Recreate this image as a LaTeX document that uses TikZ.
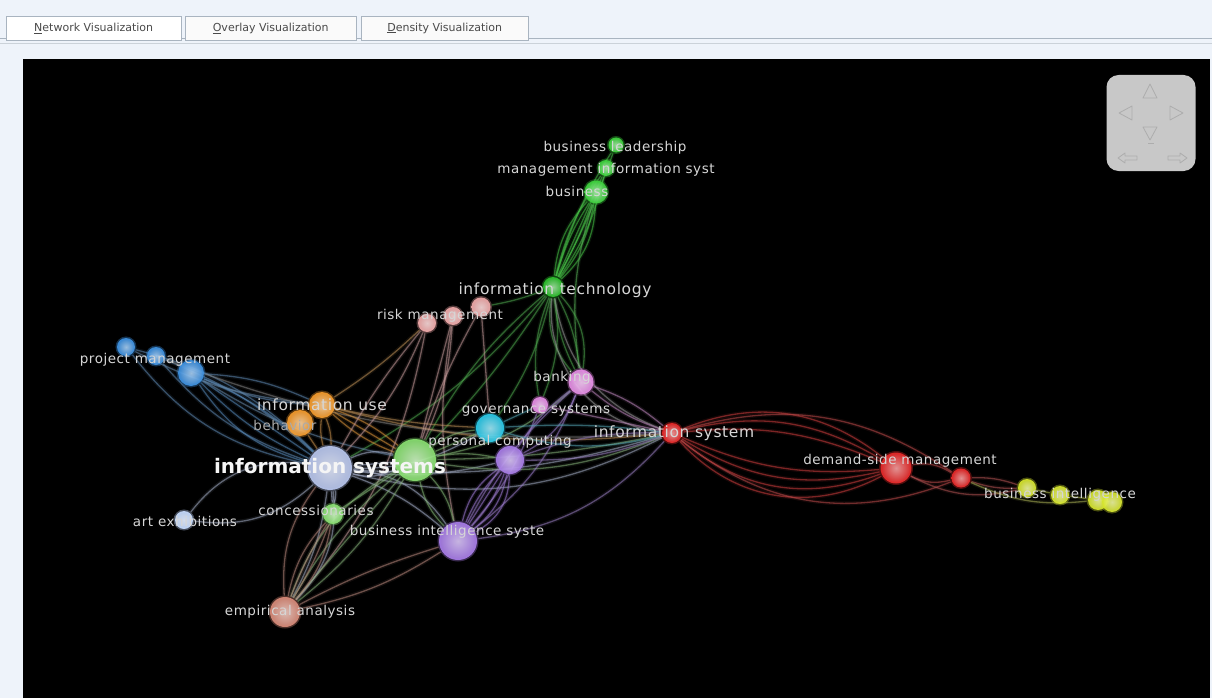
\documentclass[tikz,border=0pt]{standalone}
\usepackage{fontspec}
\setmainfont{DejaVu Sans}
\newfontfamily\lblfont[LetterSpace=4]{DejaVu Sans}
\pgfdeclarelayer{panel}
\pgfdeclarelayer{links}
\pgfsetlayers{panel,links,main}
\definecolor{bgc}{HTML}{EEF3FA}
\definecolor{tabln}{HTML}{A9B4C0}
\definecolor{tabtxt}{HTML}{4A4A4A}
\definecolor{navc}{HTML}{C8C8C8}
\definecolor{navl}{HTML}{ADADAD}
\definecolor{lbl}{HTML}{D6D6D6}
\definecolor{cTop}{HTML}{3CD23C}
\definecolor{cIT}{HTML}{2CC02C}
\definecolor{cBlue}{HTML}{3A8FE0}
\definecolor{cOrange}{HTML}{F59A2A}
\definecolor{cLav}{HTML}{B8C6EE}
\definecolor{cLime}{HTML}{88E070}
\definecolor{cPurp}{HTML}{A77BE8}
\definecolor{cCyan}{HTML}{28C8E8}
\definecolor{cPink}{HTML}{E58AE5}
\definecolor{cRed}{HTML}{E82828}
\definecolor{cYel}{HTML}{D6E52A}
\definecolor{cSal}{HTML}{D98A78}
\definecolor{cRose}{HTML}{F0A8A8}
\definecolor{cArt}{HTML}{C6DCFF}
\newcommand\bund[4]{\foreach \bb in {#4}{\draw[lnk=#3] (#1) to[bend left=\bb] (#2);}}
\begin{document}
\begin{tikzpicture}[x=1pt,y=-1pt,
  vn/.style 2 args={circle,inner sep=0pt,minimum size=#2,shading=radial,inner color=#1!45!white,outer color=#1,fill opacity=0.92,draw=#1,line width=3pt,draw opacity=0.35},
  lnk/.style={draw=#1,line width=1.3pt,draw opacity=0.55,preaction={draw=#1,line width=4pt,draw opacity=0.1}},
  small/.style={text=lbl,inner sep=0pt,font=\lblfont\fontsize{13.5}{14}\selectfont},
  medium/.style={text=lbl,inner sep=0pt,font=\lblfont\fontsize{15.5}{16}\selectfont},
  big/.style={text=white!92!gray,inner sep=0pt,font=\bfseries\fontsize{20}{21}\selectfont},
  tab/.style={draw=tabln,anchor=north west,minimum height=24,inner sep=0pt,text=tabtxt,font=\fontsize{11}{12}\selectfont},
  navtri/.style={draw=navl,line width=0.8pt,line join=round}]
\useasboundingbox (0,0) rectangle (1212,698);
\begin{pgfonlayer}{panel}
\fill[bgc] (0,0) rectangle (1212,698);
\draw[tabln,line width=1pt] (0,39) -- (1212,39);
\draw[tabln!60!white,line width=1pt] (0,44) -- (1212,44);
\fill[black] (23,59) rectangle (1210,698);
\end{pgfonlayer}
% tabs
\node[tab,fill=white,minimum width=175] (t1) at (6,16) {\underline{N}etwork Visualization};
\node[tab,fill=white!96!gray,minimum width=171] (t2) at (185,16) {\underline{O}verlay Visualization};
\node[tab,fill=white!96!gray,minimum width=167] (t3) at (361,16) {\underline{D}ensity Visualization};
% navigation box
\node[fill=navc,rounded corners=12pt,minimum width=89,minimum height=96,inner sep=0pt] (nav) at (1151,123) {};
\begin{scope}[shift={(nav.center)}]
\draw[navtri] (-1,-39) -- (-8,-25) -- (6,-25) -- cycle;
\draw[navtri] (-1,17) -- (-8,4) -- (6,4) -- cycle;
\draw[navtri] (-3,20) -- (3,20);
\draw[navtri] (-32,-10) -- (-19,-17) -- (-19,-3) -- cycle;
\draw[navtri] (32,-10) -- (19,-17) -- (19,-3) -- cycle;
\draw[navtri] (-33,35) -- (-26,30) -- (-26,33) -- (-14,33) -- (-14,37) -- (-26,37) -- (-26,40) -- cycle;
\draw[navtri] (36,35) -- (29,30) -- (29,33) -- (17,33) -- (17,37) -- (29,37) -- (29,40) -- cycle;
\end{scope}
% nodes
\node[vn={cTop}{15}] (lead) at (616,145) {};
\node[vn={cTop}{16}] (mis) at (606,168) {};
\node[vn={cTop}{23}] (bus) at (596,192) {};
\node[vn={cIT}{20}] (it) at (553,287) {};
\node[vn={cRose}{18}] (r1) at (427,323) {};
\node[vn={cRose}{18}] (r2) at (453,316) {};
\node[vn={cRose}{19}] (r3) at (481,307) {};
\node[vn={cBlue}{18}] (b1) at (126,347) {};
\node[vn={cBlue}{18}] (b2) at (156,356) {};
\node[vn={cBlue}{26}] (b3) at (191,373) {};
\node[vn={cOrange}{26}] (o1) at (322,405) {};
\node[vn={cOrange}{26}] (o2) at (300,423) {};
\node[vn={cLav}{44}] (isys) at (330,468) {};
\node[vn={cLime}{42}] (grn) at (415,460) {};
\node[vn={cArt}{18}] (art) at (184,520) {};
\node[vn={cLime}{20}] (conc) at (333,514) {};
\node[vn={cPurp}{38}] (bis) at (458,541) {};
\node[vn={cSal}{30}] (emp) at (285,612) {};
\node[vn={cCyan}{28}] (cyan) at (490,428) {};
\node[vn={cPurp}{28}] (p2) at (510,460) {};
\node[vn={cPink}{25}] (bank) at (581,382) {};
\node[vn={cPink}{16}] (gov) at (540,405) {};
\node[vn={cRed}{20}] (red) at (672,433) {};
\node[vn={cRed}{31}] (ds) at (896,468) {};
\node[vn={cRed}{19}] (ds2) at (961,478) {};
\node[vn={cYel}{18}] (y1) at (1027,488) {};
\node[vn={cYel}{18}] (y2) at (1060,495) {};
\node[vn={cYel}{20}] (y3) at (1098,500) {};
\node[vn={cYel}{20}] (y4) at (1112,502) {};
% links
\begin{pgfonlayer}{links}
\bund{lead}{it}{cTop!80!gray}{-8,4}
\bund{mis}{it}{cTop!80!gray}{-10,0,10}
\bund{bus}{it}{cTop!85!gray}{-18,-8,4,14,22}
\bund{bus}{bank}{cTop!60!gray}{-12}
\bund{it}{bank}{cIT!60!gray}{-25,-10,10,25}
\bund{it}{gov}{cIT!60!gray}{-15,15}
\bund{it}{isys}{cIT!60!gray}{10}
\bund{it}{grn}{cIT!60!gray}{-10,5}
\bund{it}{red}{gray!80!white}{-45,-30}
\bund{it}{r3}{cIT!60!gray}{5}
\bund{it}{cyan}{cIT!60!gray}{10}
\bund{b1}{isys}{cBlue!50!gray}{-20,15}
\bund{b2}{isys}{cBlue!50!gray}{-15,10}
\bund{b3}{isys}{cBlue!60!gray}{-20,-10,0,10}
\bund{b3}{o1}{cBlue!50!gray}{-10,10}
\bund{b1}{o1}{cBlue!40!gray}{-10}
\bund{b3}{grn}{cBlue!40!gray}{-10}
\bund{b2}{red}{gray}{-12}
\bund{o1}{isys}{cOrange!60!gray}{-10,10}
\bund{o2}{isys}{cOrange!60!gray}{0}
\bund{o1}{grn}{cOrange!80!gray}{-10,0,10}
\bund{o1}{red}{cOrange!50!gray}{-10}
\bund{o1}{cyan}{cOrange!50!gray}{-5}
\bund{o1}{r1}{cOrange!50!gray}{-5}
\bund{r1}{isys}{cRose!60!gray}{10,-5}
\bund{r2}{grn}{cRose!60!gray}{0,10}
\bund{r3}{grn}{cRose!60!gray}{-5}
\bund{r2}{bis}{cRose!60!gray}{-10}
\bund{r3}{cyan}{cRose!60!gray}{0}
\bund{r1}{emp}{cRose!60!gray}{15}
\bund{isys}{art}{cLav!60!gray}{-30,25}
\bund{isys}{grn}{cLav!70!gray}{-20,0,20}
\bund{isys}{conc}{cLav!70!gray}{0,10}
\bund{isys}{bis}{cLav!70!gray}{10,25}
\bund{isys}{cyan}{cLav!70!gray}{-15}
\bund{isys}{red}{cLav!60!gray}{-20,-10}
\bund{isys}{emp}{cLav!60!gray}{10,25}
\bund{isys}{p2}{cLav!60!gray}{-10}
\bund{grn}{emp}{cLime!50!gray}{-20,-10,0,10}
\bund{grn}{red}{cLime!50!gray}{-15,-5}
\bund{grn}{bis}{cLime!60!gray}{-15,15}
\bund{grn}{conc}{cLime!60!gray}{0}
\bund{grn}{bank}{cLime!60!gray}{-15}
\bund{grn}{cyan}{cLime!60!gray}{0,15}
\bund{grn}{p2}{cLime!60!gray}{10}
\bund{emp}{conc}{cSal!60!gray}{-15,-5,5,15}
\bund{emp}{bis}{cSal!60!gray}{-10,5}
\bund{emp}{isys}{cSal!60!gray}{20}
\bund{bis}{p2}{cPurp!85!gray}{-30,-20,-10,0,10,20}
\bund{bis}{bank}{cPurp!70!gray}{-15,10}
\bund{bis}{gov}{cPurp!70!gray}{-10}
\bund{bis}{red}{cPurp!60!gray}{-20}
\bund{p2}{bank}{cPurp!70!gray}{-20,10}
\bund{p2}{red}{cPurp!60!gray}{-10,10}
\bund{cyan}{red}{cCyan!50!gray}{-15,5}
\bund{cyan}{gov}{cCyan!50!gray}{0}
\bund{bank}{red}{cPink!60!gray}{-10,10}
\bund{gov}{red}{cPink!60!gray}{0}
\bund{red}{ds}{cRed!75!gray}{-38,-30,-22,-14,14,22,30}
\bund{red}{ds2}{cRed!60!gray}{-30,25}
\bund{ds}{ds2}{cRed!60!gray}{-20,20}
\bund{ds2}{y1}{cRed!50!gray}{-10,10}
\bund{ds}{y1}{cRed!50!gray}{-20}
\bund{ds2}{y3}{cYel!50!gray}{-15}
\bund{y1}{y2}{cYel!60!gray}{0}
\bund{y2}{y3}{cYel!60!gray}{0}
\bund{y3}{y4}{cYel!60!gray}{0}
\end{pgfonlayer}
% labels
\node[small] (lLead) at (615,148) {business leadership};
\node[small] (lMis) at (606,170) {management information syst};
\node[small] (lBus) at (577,191) {business};
\node[medium] (lIT) at (555,290) {information technology};
\node[small] (lRisk) at (440,316) {risk management};
\node[small] (lPM) at (155,360) {project management};
\node[medium] (lUse) at (322,405) {information use};
\node[small,text=lbl!80!black] (lBeh) at (285,425) {behavior};
\node[big] (lIsys) at (330,468) {information systems};
\node[small] (lBank) at (562,378) {banking};
\node[small] (lGov) at (536,410) {governance systems};
\node[small] (lPC) at (500,442) {personal computing};
\node[medium] (lRed) at (674,433) {information system};
\node[small] (lDS) at (900,461) {demand-side management};
\node[small] (lBI) at (1060,495) {business intelligence};
\node[small] (lArt) at (185,521) {art exhibitions};
\node[small] (lConc) at (316,510) {concessionaries};
\node[small] (lBIS) at (447,532) {business intelligence syste};
\node[small] (lEmp) at (290,612) {empirical analysis};
\end{tikzpicture}
\end{document}
